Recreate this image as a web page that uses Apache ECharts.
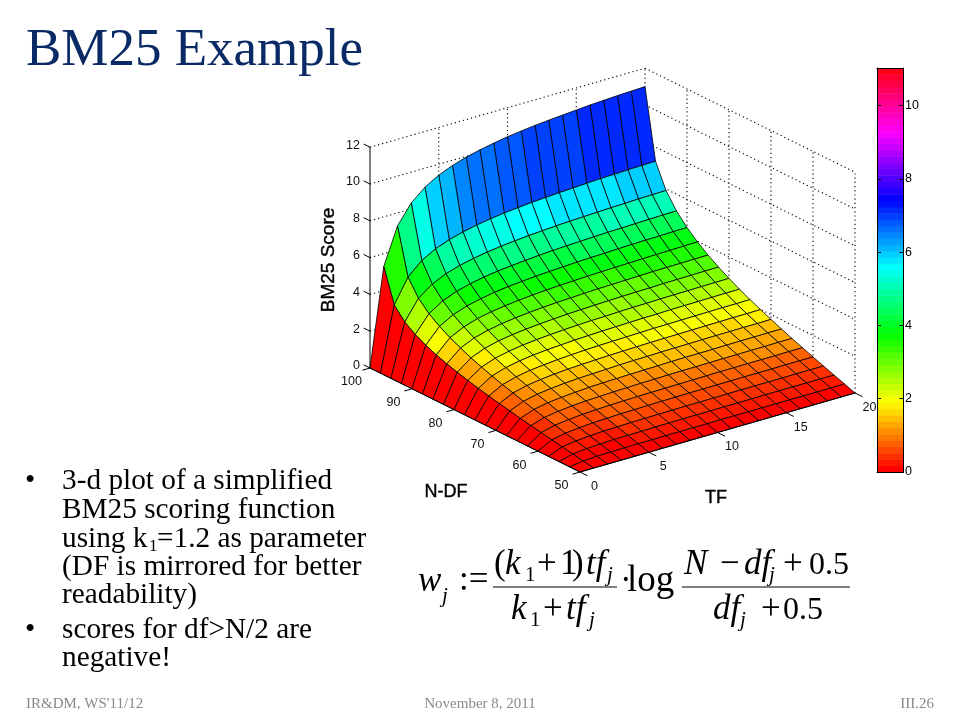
<!DOCTYPE html>
<html><head><meta charset="utf-8">
<style>html,body{margin:0;padding:0;background:#fff}#c{width:960px;height:720px}</style>
<script src="https://cdn.jsdelivr.net/npm/echarts@6/dist/echarts.min.js"></script>
</head><body><div id="c"></div>
<script>
const tfValues = [0,1,2,3,4,5,6,7,8,9,10,11,12,13,14,15,16,17,18,19,20];
const nDfValues = [50,52.5,55,57.5,60,62.5,65,67.5,70,72.5,75,77.5,80,82.5,85,87.5,90,92.5,95,97.5,100];
const tfTicks = [0,5,10,15,20];
const nDfTicks = [50,60,70,80,90,100];
const scoreTicks = [0,2,4,6,8,10,12];
const colorbarTicks = [0,2,4,6,8,10];
const colorMax = 11.03;
const colorLevels = 64;
// one row per N-DF value, one column per TF value
const scoreRows = [
[0,0,0,0,0,0,0,0,0,0,0,0,0,0,0,0,0,0,0,0,0],
[0,.10,.14,.16,.17,.18,.18,.19,.19,.19,.19,.20,.20,.20,.20,.20,.20,.20,.20,.20,.21],
[0,.20,.27,.31,.34,.35,.36,.37,.38,.39,.39,.39,.40,.40,.40,.41,.41,.41,.41,.41,.41],
[0,.30,.41,.47,.51,.53,.55,.56,.57,.58,.59,.59,.60,.60,.61,.61,.61,.61,.62,.62,.62],
[0,.40,.55,.63,.68,.71,.74,.75,.77,.78,.79,.80,.80,.81,.81,.82,.82,.82,.83,.83,.83],
[0,.51,.70,.79,.86,.90,.93,.95,.97,.98,.99,1.00,1.01,1.02,1.03,1.03,1.04,1.04,1.04,1.05,1.05],
[0,.61,.84,.96,1.04,1.09,1.12,1.15,1.17,1.19,1.20,1.22,1.23,1.23,1.24,1.25,1.25,1.26,1.26,1.27,1.27],
[0,.72,.99,1.14,1.22,1.28,1.33,1.36,1.38,1.40,1.42,1.43,1.45,1.46,1.46,1.47,1.48,1.49,1.49,1.50,1.50],
[0,.84,1.15,1.32,1.42,1.49,1.54,1.57,1.60,1.63,1.65,1.66,1.68,1.69,1.70,1.71,1.72,1.72,1.73,1.73,1.74],
[0,.96,1.32,1.51,1.62,1.70,1.76,1.80,1.83,1.86,1.88,1.90,1.92,1.93,1.94,1.95,1.96,1.97,1.98,1.98,1.99],
[0,1.09,1.49,1.70,1.84,1.92,1.99,2.04,2.08,2.11,2.13,2.15,2.17,2.19,2.20,2.21,2.22,2.23,2.24,2.24,2.25],
[0,1.22,1.68,1.92,2.07,2.17,2.24,2.29,2.34,2.37,2.40,2.42,2.44,2.46,2.47,2.49,2.50,2.51,2.52,2.53,2.53],
[0,1.37,1.88,2.15,2.31,2.43,2.51,2.57,2.62,2.66,2.69,2.71,2.74,2.76,2.77,2.79,2.80,2.81,2.82,2.83,2.84],
[0,1.53,2.10,2.40,2.59,2.71,2.80,2.87,2.92,2.97,3.00,3.03,3.06,3.08,3.10,3.11,3.13,3.14,3.15,3.16,3.17],
[0,1.71,2.35,2.68,2.89,3.03,3.13,3.21,3.27,3.32,3.35,3.39,3.42,3.44,3.46,3.48,3.50,3.51,3.52,3.53,3.54],
[0,1.91,2.63,3.00,3.24,3.39,3.50,3.59,3.66,3.71,3.76,3.79,3.82,3.85,3.87,3.89,3.91,3.93,3.94,3.96,3.97],
[0,2.15,2.96,3.38,3.64,3.82,3.95,4.05,4.12,4.18,4.23,4.27,4.31,4.34,4.36,4.39,4.41,4.43,4.44,4.46,4.47],
[0,2.45,3.37,3.85,4.15,4.35,4.50,4.61,4.69,4.76,4.82,4.87,4.91,4.94,4.97,5.00,5.02,5.04,5.06,5.08,5.09],
[0,2.85,3.92,4.48,4.83,5.06,5.23,5.36,5.46,5.54,5.61,5.66,5.71,5.75,5.78,5.81,5.84,5.86,5.89,5.90,5.92],
[0,3.49,4.79,5.48,5.90,6.18,6.39,6.55,6.67,6.77,6.85,6.92,6.97,7.02,7.06,7.10,7.14,7.16,7.19,7.21,7.23],
[0,5.30,7.29,8.33,8.97,9.41,9.72,9.96,10.14,10.29,10.42,10.52,10.61,10.68,10.74,10.80,10.86,10.90,10.94,10.97,11.00]
];

// view of the 3-d box, in the units of the flat plot axes
const view = {ox:580, oy:472, tfX:13.75, tfY:-3.95, nX:-4.2, nY:-2.08, zY:-18.4};
function project(tf, n, z){
  return [view.ox + view.tfX*tf + view.nX*(n-50), view.oy + view.tfY*tf + view.nY*(n-50) + view.zY*z];
}
function hsvColor(k){
  const h = k/colorLevels*6, i = Math.floor(h), f = h-i;
  const q = Math.round(255*(1-f)), t = Math.round(255*f);
  const c = [[255,t,0],[q,255,0],[0,255,t],[0,q,255],[t,0,255],[255,0,q]][i%6];
  return 'rgb('+c.join(',')+')';
}
function scoreColor(z){
  return hsvColor(Math.min(colorLevels-1, Math.floor(z/colorMax*colorLevels)));
}

// painter's order: far cells first
const cells = [];
for (let i = nDfValues.length-2; i >= 0; i--)
  for (let j = tfValues.length-2; j >= 0; j--) cells.push([i,j]);

const zTop = scoreTicks[scoreTicks.length-1], nBack = 100, tfBack = 20;
const wallLines = [];
scoreTicks.forEach(z => {
  wallLines.push([0,nBack,z,tfBack,nBack,z]);
  wallLines.push([tfBack,nBack,z,tfBack,50,z]);
});
tfTicks.forEach(t => { if (t>0) wallLines.push([t,nBack,0,t,nBack,zTop]); });
nDfTicks.forEach(n => { if (n<100) wallLines.push([tfBack,n,0,tfBack,n,zTop]); });

const axisLines = [[0,100,0,0,100,zTop],[0,100,0,0,50,0],[0,50,0,20,50,0]];
scoreTicks.forEach(z => axisLines.push([0,100,z,0,101.5,z]));
nDfTicks.forEach(n => axisLines.push([0,n,0,-0.55,n,0]));
tfTicks.forEach(t => axisLines.push([t,50,0,t,48.2,0]));

const axisFont = '"Liberation Sans",Arial,sans-serif';
const serif = '"Liberation Serif","Times New Roman",serif';
const tickTexts = [];
scoreTicks.forEach(z => { const p = project(0,100,z); tickTexts.push([p[0]-10,p[1]-2,String(z),'right']); });
nDfTicks.forEach(n => { const p = project(0,n,0); tickTexts.push([p[0]-18.5,p[1]+14,String(n),'center']); });
tfTicks.forEach(t => { const p = project(t,50,0); tickTexts.push([p[0]+14.5,p[1]+14.5,String(t),'center']); });

function lineSeries(name, data, style){
  return {type:'custom', name, xAxisIndex:0, yAxisIndex:0, silent:true, z:style.z,
    data: data.map((d,i)=>[i,i]), clip:false,
    renderItem(params, api){
      const d = data[api.value(0)];
      const a = api.coord(project(d[0],d[1],d[2])), b = api.coord(project(d[3],d[4],d[5]));
      return {type:'line', shape:{x1:a[0],y1:a[1],x2:b[0],y2:b[1]},
        style:{stroke:'#000',lineWidth:style.width,lineDash:style.dash||null,fill:null}};
    }};
}

const slideText = [];
function put(x, base, s, size, opt){
  opt = opt||{};
  slideText.push({type:'text', x, y:base-size*0.31, silent:true, z:20,
    style:{text:s, fontFamily:opt.family||serif, fontSize:size, fontStyle:opt.italic?'italic':'normal',
      fill:opt.color||'#000', align:opt.align||'left', verticalAlign:'middle'}});
}
put(26,67.5,'BM25 Example',53,{color:'#0a2a66'});
const bulletSize = 29.3;
put(25,490,'•',bulletSize); put(25,639,'•',bulletSize);
put(62,490,'3-d plot of a simplified',bulletSize);
put(62,519,'BM25 scoring function',bulletSize);
put(62,548,'using k',bulletSize);
put(149,552,'1',17);
put(157,548,'=1.2 as parameter',bulletSize);
put(62,576,'(DF is mirrored for better',bulletSize);
put(62,604,'readability)',bulletSize);
put(62,639,'scores for df>N/2 are',bulletSize);
put(62,667,'negative!',bulletSize);
const footGrey = '#8a8a8a';
put(26,709,"IR&DM, WS'11/12",15,{color:footGrey});
put(480,709,'November 8, 2011',15,{color:footGrey,align:'center'});
put(934,709,'III.26',15,{color:footGrey,align:'right'});
// formula
const fs = 35, fsub = 21, it = {italic:true}, half = 32;
put(418,593,'w',fs,it); put(442,603,'j',fsub,it);
put(459,592,':=',fs);
put(494,576,'(',fs); put(505,576,'k',fs,it); put(525,582,'1',fsub);
put(537,576,'+',fs); put(560,576,'1',fs); put(572,576,')',fs);
put(586,576,'tf',fs,it); put(607,582,'j',fsub,it);
put(511,621,'k',fs,it); put(530,627,'1',fsub);
put(543,621,'+',fs); put(566,621,'tf',fs,it); put(589,627,'j',fsub,it);
put(620,593,'·',fs); put(627,593,'log',37);
put(684,576,'N',fs,it); put(720,576,'−',fs); put(744,576,'df',fs,it); put(769,582,'j',fsub,it);
put(783,576,'+',fs); put(809,576,'0.5',half);
put(713,621,'df',fs,it); put(740,627,'j',fsub,it);
put(761,621,'+',fs); put(783,621,'0.5',half);
slideText.push({type:'line',silent:true,shape:{x1:493,y1:587,x2:617,y2:587},style:{stroke:'#000',lineWidth:1.2}});
slideText.push({type:'line',silent:true,shape:{x1:682,y1:587,x2:850,y2:587},style:{stroke:'#000',lineWidth:1.2}});
const titleStyle = (s,size) => ({text:s,fontFamily:axisFont,fontSize:size,fill:'#000',stroke:'#000',lineWidth:0.4,align:'center',verticalAlign:'middle'});
const axisTitles = [
  {type:'text',x:716,y:498,silent:true,z:20,style:titleStyle('TF',18)},
  {type:'text',x:446,y:492,silent:true,z:20,style:titleStyle('N-DF',18)},
  {type:'text',x:329,y:260,rotation:Math.PI/2,silent:true,z:20,style:titleStyle('BM25 Score',19)}
];

const levelIndex = [];
for (let k=0;k<colorLevels;k++) levelIndex.push(k);

const chart = echarts.init(document.getElementById('c'), null, {renderer:'canvas'});
chart.setOption({
  animation:false,
  backgroundColor:'#fff',
  graphic:{elements:slideText.concat(axisTitles)},
  grid:[
    {left:0,top:0,width:960,height:720,show:false},
    {left:877,top:68,width:26.5,height:404,show:false}
  ],
  xAxis:[
    {gridIndex:0,type:'value',min:0,max:960,show:false},
    {gridIndex:1,type:'value',min:0,max:1,position:'bottom',z:5,axisLabel:{show:false},axisTick:{show:false},splitLine:{show:false},axisLine:{show:true,onZero:false,lineStyle:{color:'#000',width:1}}},
    {gridIndex:1,type:'value',min:0,max:1,position:'top',z:5,axisLabel:{show:false},axisTick:{show:false},splitLine:{show:false},axisLine:{show:true,onZero:false,lineStyle:{color:'#000',width:1}}}
  ],
  yAxis:[
    {gridIndex:0,type:'value',min:0,max:720,inverse:true,show:false},
    {gridIndex:1,type:'value',min:0,max:colorMax,position:'right',z:5,splitLine:{show:false},
      axisLine:{show:true,onZero:false,lineStyle:{color:'#000',width:1}},
      axisTick:{show:true,inside:true,length:4,customValues:colorbarTicks,lineStyle:{color:'#000'}},
      axisLabel:{show:true,margin:1.5,fontSize:12.5,color:'#000',fontFamily:axisFont,customValues:colorbarTicks}},
    {gridIndex:1,type:'value',min:0,max:colorMax,position:'left',z:5,splitLine:{show:false},
      axisLine:{show:true,onZero:false,lineStyle:{color:'#000',width:1}},
      axisTick:{show:true,inside:true,length:4,customValues:colorbarTicks,lineStyle:{color:'#000'}},
      axisLabel:{show:false}}
  ],
  series:[
    lineSeries('walls', wallLines, {z:1,width:1.1,dash:[1.2,3]}),
    {type:'custom',name:'surface',xAxisIndex:0,yAxisIndex:0,z:2,silent:true,clip:false,
      data:cells,
      renderItem(params, api){
        const i = api.value(0), j = api.value(1);
        const corner = (a,b) => api.coord(project(tfValues[b], nDfValues[a], scoreRows[a][b]));
        return {type:'polygon',
          shape:{points:[corner(i,j),corner(i,j+1),corner(i+1,j+1),corner(i+1,j)]},
          style:{fill:scoreColor(scoreRows[i][j]),stroke:'#000',lineWidth:0.8}};
      }},
    lineSeries('axes', axisLines, {z:3,width:1}),
    {type:'custom',name:'tick labels',xAxisIndex:0,yAxisIndex:0,z:4,silent:true,clip:false,
      data:tickTexts.map((d,i)=>[i,i]),
      renderItem(params, api){
        const d = tickTexts[api.value(0)], p = api.coord([d[0],d[1]]);
        return {type:'text',x:p[0],y:p[1],
          style:{text:d[2],fontFamily:axisFont,fontSize:12.5,fill:'#111',align:d[3],verticalAlign:'middle'}};
      }},
    {type:'custom',name:'colorbar',xAxisIndex:1,yAxisIndex:1,z:2,silent:true,
      data:levelIndex.map(k=>[0,k/colorLevels*colorMax,k]),
      encode:{x:0,y:1},
      renderItem(params, api){
        const k = api.value(2);
        const a = api.coord([0,k/colorLevels*colorMax]), b = api.coord([1,(k+1)/colorLevels*colorMax]);
        return {type:'rect',shape:{x:a[0],y:b[1],width:b[0]-a[0],height:a[1]-b[1]+0.5},style:{fill:hsvColor(k)}};
      }}
  ]
});
</script></body></html>
